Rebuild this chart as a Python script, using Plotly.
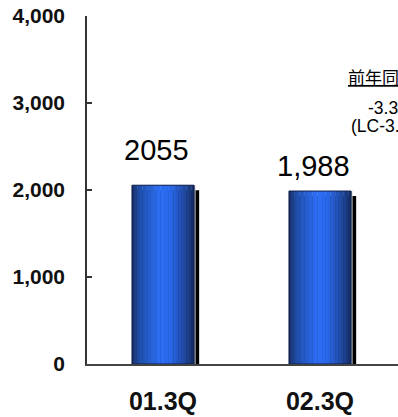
import plotly.graph_objects as go

# Quarterly totals
categories = ["01.3Q", "02.3Q"]
values = [2055, 1988]
value_labels = ["2055", "1,988"]
y_ticks = [0, 1000, 2000, 3000, 4000]
y_tick_labels = ["0", "1,000", "2,000", "3,000", "4,000"]

# Year-on-year note
yoy_title = "前年同期比"
yoy_lines = ["-3.3%", "(LC-3.0%)"]

BAR_W = 0.395          # bar width in category units
N_SLICES = 24          # vertical slices used to shade the cylinder
SHADOW_DX = 0.033      # shadow shift to the right (category units)
SHADOW_DY = 57         # shadow drop (value units)

def lerp(c1, c2, t):
    return tuple(round(a + (b - a) * t) for a, b in zip(c1, c2))

stops = [
    (0.00, (22, 44, 98)),
    (0.12, (32, 78, 170)),
    (0.45, (44, 110, 245)),
    (0.62, (42, 104, 235)),
    (0.88, (30, 68, 150)),
    (1.00, (22, 44, 98)),
]

def shade(t):
    for (t0, c0), (t1, c1) in zip(stops, stops[1:]):
        if t <= t1:
            return "rgb(%d,%d,%d)" % lerp(c0, c1, (t - t0) / (t1 - t0))
    return "rgb(%d,%d,%d)" % stops[-1][1]

fig = go.Figure()

# drop shadow
fig.add_trace(go.Bar(
    x=categories, y=[v - SHADOW_DY for v in values],
    width=BAR_W, offset=-BAR_W / 2 + SHADOW_DX,
    marker=dict(color="#000000", line=dict(width=0)),
    hoverinfo="skip",
))

# light rim on the right side of each bar
fig.add_trace(go.Bar(
    x=categories, y=values,
    width=0.012, offset=BAR_W / 2 - 0.002,
    marker=dict(color="#d8d8d8", line=dict(width=0)),
    hoverinfo="skip",
))

# shaded bar body
sw = BAR_W / N_SLICES
for i in range(N_SLICES):
    t = (i + 0.5) / N_SLICES
    fig.add_trace(go.Bar(
        x=categories, y=values,
        width=sw * 1.15, offset=-BAR_W / 2 + i * sw,
        marker=dict(color=shade(t), line=dict(width=0)),
        hoverinfo="skip",
    ))

# outline
fig.add_trace(go.Bar(
    x=categories, y=values,
    width=BAR_W, offset=-BAR_W / 2,
    marker=dict(color="rgba(0,0,0,0)", line=dict(color="#0c1c4a", width=1)),
    hoverinfo="skip",
))

# value labels above the bars
label_shift = [17, 7]
for c, v, txt, s in zip(categories, values, value_labels, label_shift):
    fig.add_annotation(
        x=c, y=v, text=txt, showarrow=False,
        xanchor="center", yanchor="bottom", yshift=s, xshift=-6,
        font=dict(family="Liberation Sans, Arial", size=29, color="#000000"),
    )

# year-on-year note on the right
fig.add_annotation(
    xref="paper", yref="paper", x=1.0, y=0.826,
    text="<u>%s</u>" % yoy_title, showarrow=False,
    xanchor="center", yanchor="middle", xshift=-8,
    font=dict(family="Noto Sans CJK JP", size=17, color="#000000"),
)
for line, yp in zip(yoy_lines, [0.737, 0.683]):
    fig.add_annotation(
        xref="paper", yref="paper", x=1.0, y=yp,
        text=line, showarrow=False, align="center",
        xanchor="center", yanchor="middle", xshift=-7, borderpad=0,
        font=dict(family="Liberation Sans, Arial", size=17.5, color="#000000"),
    )

fig.update_layout(
    width=398, height=417,
    margin=dict(l=87, r=0, t=16, b=53, autoexpand=False),
    paper_bgcolor="white", plot_bgcolor="white",
    barmode="overlay", showlegend=False,
    xaxis=dict(
        type="category", range=[-0.484, 1.497], automargin=False,
        showline=True, linecolor="#444444", linewidth=1.5,
        ticks="", showgrid=False, zeroline=False,
        tickfont=dict(family="Liberation Sans, Arial", size=25, color="#111111", weight="bold"),
        ticklabelstandoff=14,
    ),
    yaxis=dict(
        range=[0, 4000], tickvals=y_ticks, ticktext=y_tick_labels, automargin=False,
        showline=True, linecolor="#333333", linewidth=1.5,
        ticks="inside", ticklen=5, tickwidth=1.5, tickcolor="#333333",
        showgrid=False, zeroline=False,
        tickfont=dict(family="Liberation Sans, Arial", size=21, color="#111111", weight="bold"),
        ticklabelstandoff=16,
    ),
)

fig.write_html("out.html")
